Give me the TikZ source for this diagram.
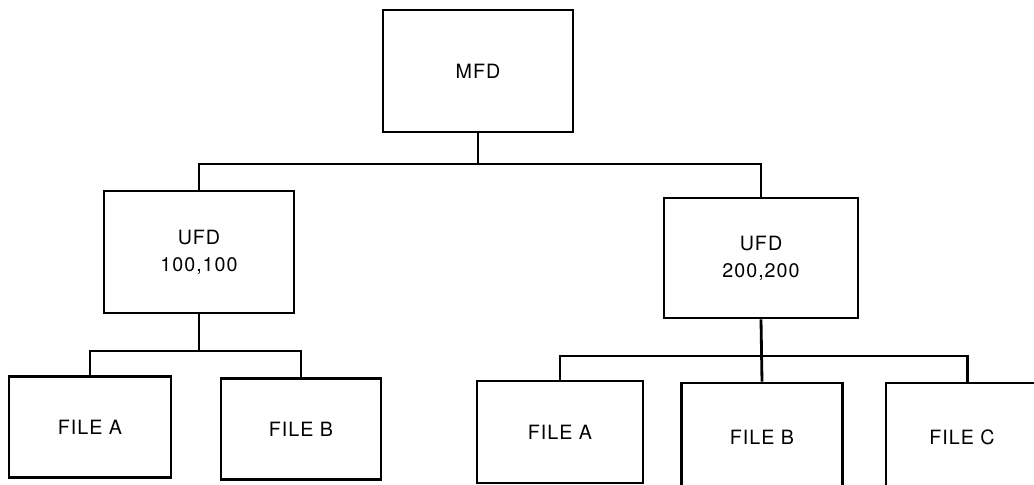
\documentclass[tikz,border=0pt]{standalone}
\usepackage{fontspec}
\setmainfont{TeX Gyre Heros}[LetterSpace=5]
\usepackage{tikz}
\usetikzlibrary{positioning,calc}

\begin{document}
\begin{tikzpicture}[x=0.025cm,y=-0.025cm,line width=2pt,
    dirbox/.style n args={2}{draw,rectangle,align=center,inner sep=0pt,
      minimum width=#1*0.025cm,minimum height=#2*0.025cm,font=\fontsize{14}{19}\selectfont}]
  \useasboundingbox (0,0) rectangle (1034,485); % 画像の大きさ
  \def\busTop{164}   % MFD と UFD をつなぐ横線の高さ
  \def\busLeft{351}  % UFD 100,100 の下の横線
  \def\busRight{356} % UFD 200,200 の下の横線
  \node[dirbox={190}{122}] (mfd) at (478,71) {MFD}; % 最上位のディレクトリ
  \node[dirbox={190}{122}] (ufdA) at (199,252) {UFD\\100,100};
  \node[dirbox={194}{120}] (ufdB) at (761,258) {UFD\\200,200};
  \node[dirbox={162}{101}] (fileAa) at (90,427) {FILE A}; % 左側のファイル
  \node[dirbox={160}{101}] (fileAb) at (301,429) {FILE B};
  \node[dirbox={166}{102}] (fileBa) at (560,432) {FILE A}; % 右側のファイル(下端は画像の外まで続く)
  \node[dirbox={161}{108}] (fileBb) at (762,437) {FILE B};
  \node[dirbox={152}{108}] (fileBc) at (962,437) {FILE C};
  \coordinate (top) at (0,\busTop);
  \coordinate (left) at (0,\busLeft);
  \coordinate (right) at (0,\busRight);
  \draw (mfd.south) -- (mfd.south |- top); % MFD から横線へ
  \draw (ufdA.north) |- (ufdB.north |- top) -- (ufdB.north);
  \draw (ufdA.south) -- (ufdA.south |- left); % UFD 100,100 から下へ
  \draw (fileAa.north) |- (fileAb.north |- left) -- (fileAb.north);
  \draw (ufdB.south) -- (fileBb.north); % UFD 200,200 から FILE B へまっすぐ
  \draw (fileBa.north) |- ([xshift=4] fileBc.north |- right) -- ([xshift=4] fileBc.north);
\end{tikzpicture}
\end{document}
